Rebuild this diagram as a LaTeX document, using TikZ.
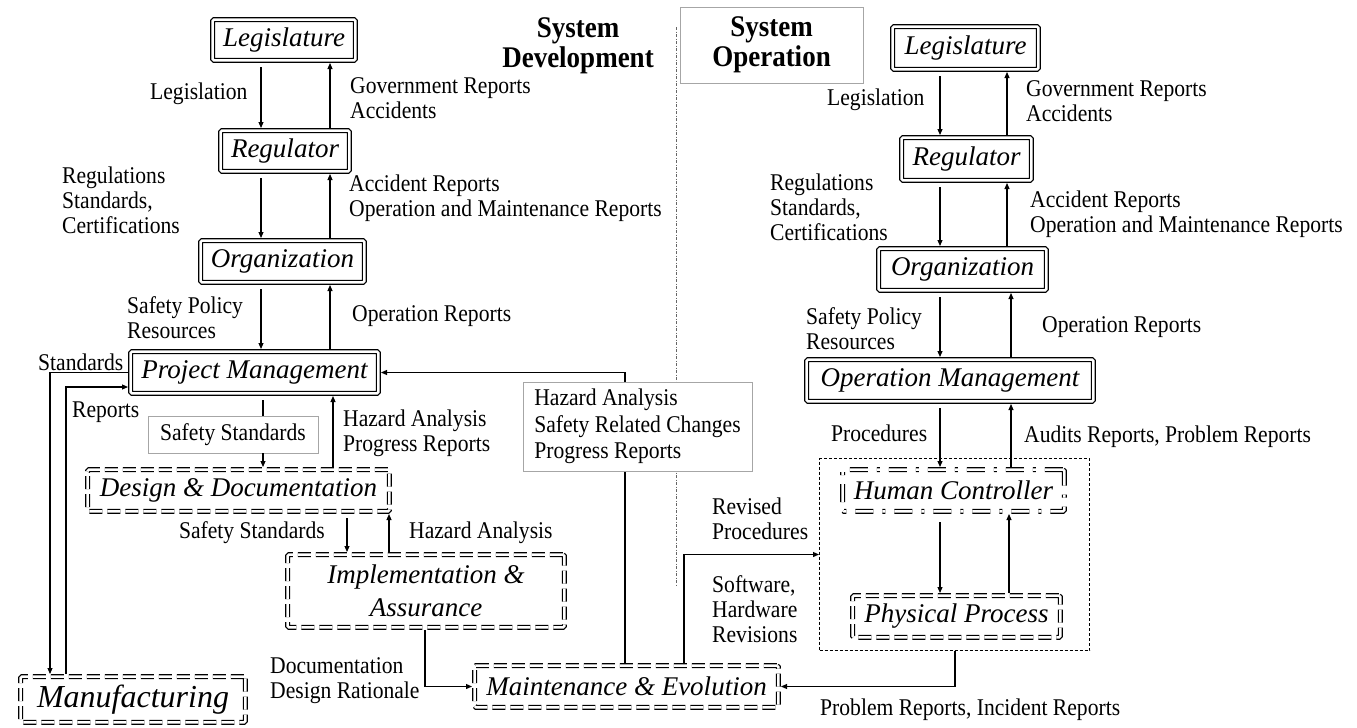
\documentclass[tikz,border=0pt]{standalone}
\usepackage{fontspec}
\setmainfont{Liberation Serif}
\newfontfamily\lblfont{Liberation Serif}[FakeStretch=0.9]
\usetikzlibrary{arrows.meta}

\begin{document}
\begin{tikzpicture}[
  x=1pt, y=-1pt,
  every node/.style={inner sep=0pt},
  conn/.style={line width=1.1pt},
  arr/.style={conn, -{Triangle[length=6pt,width=5pt]}},
  lbl/.style={font=\lblfont\fontsize{24}{25}\selectfont, align=left, anchor=west},
  title/.style={font=\lblfont\bfseries\fontsize{30}{30}\selectfont, align=center},
  unit/.style={draw, line width=1.3pt, double, double distance=2.5pt, rounded corners=1.5pt,
               outer sep=2.6pt, align=center, font=\itshape\fontsize{27}{33}\selectfont},
  dashunit/.style={unit, dash pattern=on 13pt off 5pt},
  dotunit/.style={unit, dash pattern=on 18pt off 9pt on 3pt off 9pt},
  note/.style={draw=black!35, line width=0.8pt, fill=white,
               font=\lblfont\fontsize{24}{26.5}\selectfont, align=left},
  group/.style={draw, line width=1pt, dash pattern=on 3pt off 2pt},
  divider/.style={draw=black!60, line width=0.7pt, dash pattern=on 3pt off 1.5pt on 1pt off 1.5pt},
]
\fill[white] (0,0) rectangle (1357,728);
\path[use as bounding box] (0,0) rectangle (1357,728);

% ---------- divider between the two halves ----------
\draw[divider] (676,27) -- (676,585);

% ---------- titles ----------
\node[title] (devTitle) at (578,46) {System\\Development};
\node[note, title, minimum width=183, minimum height=76] (opTitle) at (771.5,45) {System\\Operation};

% ---------- system development: control units ----------
\node[unit, minimum width=142.8, minimum height=40.8] (legL) at (284,40) {Legislature};
\node[unit, minimum width=128.8, minimum height=40.8] (regL) at (285,151) {Regulator};
\node[unit, minimum width=163.8, minimum height=41.8] (orgL) at (282.5,261.5) {Organization};
\node[unit, minimum width=247.8, minimum height=41.8] (pm) at (254.5,372.5) {Project Management};
\node[dashunit, minimum width=301.8, minimum height=41.8] (design) at (238.5,490.5) {Design \& Documentation};
\node[dashunit, minimum width=276.8, minimum height=72.8] (impl) at (426,591) {Implementation \&\\Assurance};
\node[dashunit, minimum width=224.8, minimum height=45.8, font=\itshape\fontsize{32}{36}\selectfont] (manuf) at (133,699.5) {Manufacturing};
\node[dashunit, minimum width=303.8, minimum height=41.8] (maint) at (626.5,686.5) {Maintenance \& Evolution};

% ---------- system operation: control units ----------
\node[unit, minimum width=145.8, minimum height=42.8] (legR) at (965.5,48) {Legislature};
\node[unit, minimum width=129.8, minimum height=42.8] (regR) at (966.5,159) {Regulator};
\node[unit, minimum width=167.8, minimum height=41.8] (orgR) at (962.5,269.5) {Organization};
\node[unit, minimum width=286.8, minimum height=41.8] (om) at (950,380.5) {Operation Management};
\node[group, minimum width=270, minimum height=192] (ctrl) at (954.5,554.5) {};
\node[dotunit, minimum width=221.8, minimum height=41.8] (hc) at (953.5,490.5) {Human Controller};
\node[dashunit, minimum width=207.8, minimum height=41.8] (pp) at (956.5,616.5) {Physical Process};

% ---------- columns used by the vertical channels ----------
\coordinate (dL) at (261,0);
\coordinate (uL) at (330,0);
\coordinate (sx) at (263,0);
\coordinate (ux) at (333,0);
\coordinate (dI) at (347,0);
\coordinate (uI) at (389,0);
\coordinate (stdX) at (50,0);
\coordinate (repX) at (66,0);
\coordinate (docX) at (425,0);
\coordinate (hazX) at (625,0);
\coordinate (revX) at (684,0);
\coordinate (probX) at (955,0);
\coordinate (dR) at (940,0);
\coordinate (uR) at (1007,0);
\coordinate (uR2) at (1011,0);
\coordinate (uR3) at (1009,0);

% ---------- system development channels ----------
\draw[arr, shorten <=4pt] (legL.south -| dL) -- (regL.north -| dL);
\draw[arr] (regL.north -| uL) -- (legL.south -| uL);
\draw[arr, shorten <=4pt] (regL.south -| dL) -- (orgL.north -| dL);
\draw[arr] (orgL.north -| uL) -- (regL.south -| uL);
\draw[arr, shorten <=4pt] (orgL.south -| dL) -- (pm.north -| dL);
\draw[arr] (pm.north -| uL) -- (orgL.south -| uL);

\node[note, align=center, minimum width=170, minimum height=37] (ss) at (233,434.5) {Safety Standards};
\draw[conn, shorten <=4pt] (pm.south -| sx) -- (ss.north -| sx);
\draw[arr] (ss.south -| sx) -- (design.north -| sx);
\draw[arr] (design.north -| ux) -- (pm.south -| ux);
\draw[arr, shorten <=4pt] (design.south -| dI) -- (impl.north -| dI);
\draw[arr] (impl.north -| uI) -- (design.south -| uI);

\draw[arr] (pm.west) -| (manuf.north -| stdX);
\draw[arr] (manuf.north -| repX) |- ([yshift=-14.5pt]pm.west);
\draw[arr] (impl.south -| docX) |- (maint.west);
\draw[arr] (maint.north -| hazX) |- (pm.east);
\draw[arr] (maint.north -| revX) |- (ctrl.west);
\draw[arr] (ctrl.south -| probX) |- (maint.east);

\node[note, minimum width=229, minimum height=89] (hazBox) at (637.5,426.5)
  {Hazard Analysis\\Safety Related Changes\\Progress Reports};

% ---------- system operation channels ----------
\draw[arr, shorten <=4pt] (legR.south -| dR) -- (regR.north -| dR);
\draw[arr] (regR.north -| uR) -- (legR.south -| uR);
\draw[arr, shorten <=4pt] (regR.south -| dR) -- (orgR.north -| dR);
\draw[arr] (orgR.north -| uR) -- (regR.south -| uR);
\draw[arr, shorten <=4pt] (orgR.south -| dR) -- (om.north -| dR);
\draw[arr] (om.north -| uR2) -- (orgR.south -| uR2);
\draw[arr, shorten <=4pt] (om.south -| dR) -- (hc.north -| dR);
\draw[arr] (hc.north -| uR2) -- (om.south -| uR2);
\draw[arr, shorten <=8pt] (hc.south -| dR) -- (pp.north -| dR);
\draw[arr] (pp.north -| uR3) -- (hc.south -| uR3);

% ---------- labels: system development ----------
\node[lbl] (tLegisL) at (150,94) {Legislation};
\node[lbl] (tGovL) at (350,98) {Government Reports\\Accidents};
\node[lbl] (tRegsL) at (62,200) {Regulations\\Standards,\\Certifications};
\node[lbl] (tAccL) at (349,198.5) {Accident Reports\\Operation and Maintenance Reports};
\node[lbl] (tPolL) at (127,317.5) {Safety Policy\\Resources};
\node[lbl] (tOpL) at (352,316) {Operation Reports};
\node[lbl] (tStd) at (38,362) {Standards};
\node[lbl] (tRep) at (72,412) {Reports};
\node[lbl] (tHazPM) at (343,433) {Hazard Analysis\\Progress Reports};
\node[lbl, anchor=east] (tSafe2) at (325,533) {Safety Standards};
\node[lbl] (tHaz2) at (409,533) {Hazard Analysis};
\node[lbl] (tDoc) at (270,681) {Documentation\\Design Rationale};
\node[lbl] (tRev) at (712,518.5) {Revised\\Procedures};
\node[lbl] (tSw) at (712,609) {Software,\\Hardware\\Revisions};
\node[lbl] (tProb) at (820,710) {Problem Reports, Incident Reports};

% ---------- labels: system operation ----------
\node[lbl] (tLegisR) at (827,100) {Legislation};
\node[lbl] (tGovR) at (1026,101.5) {Government Reports\\Accidents};
\node[lbl] (tRegsR) at (770,207.5) {Regulations\\Standards,\\Certifications};
\node[lbl] (tAccR) at (1030,214.5) {Accident Reports\\Operation and Maintenance Reports};
\node[lbl] (tPolR) at (806,329) {Safety Policy\\Resources};
\node[lbl] (tOpR) at (1042,327) {Operation Reports};
\node[lbl] (tProc) at (831,433) {Procedures};
\node[lbl] (tAud) at (1024,437) {Audits Reports, Problem Reports};
\end{tikzpicture}
\end{document}
